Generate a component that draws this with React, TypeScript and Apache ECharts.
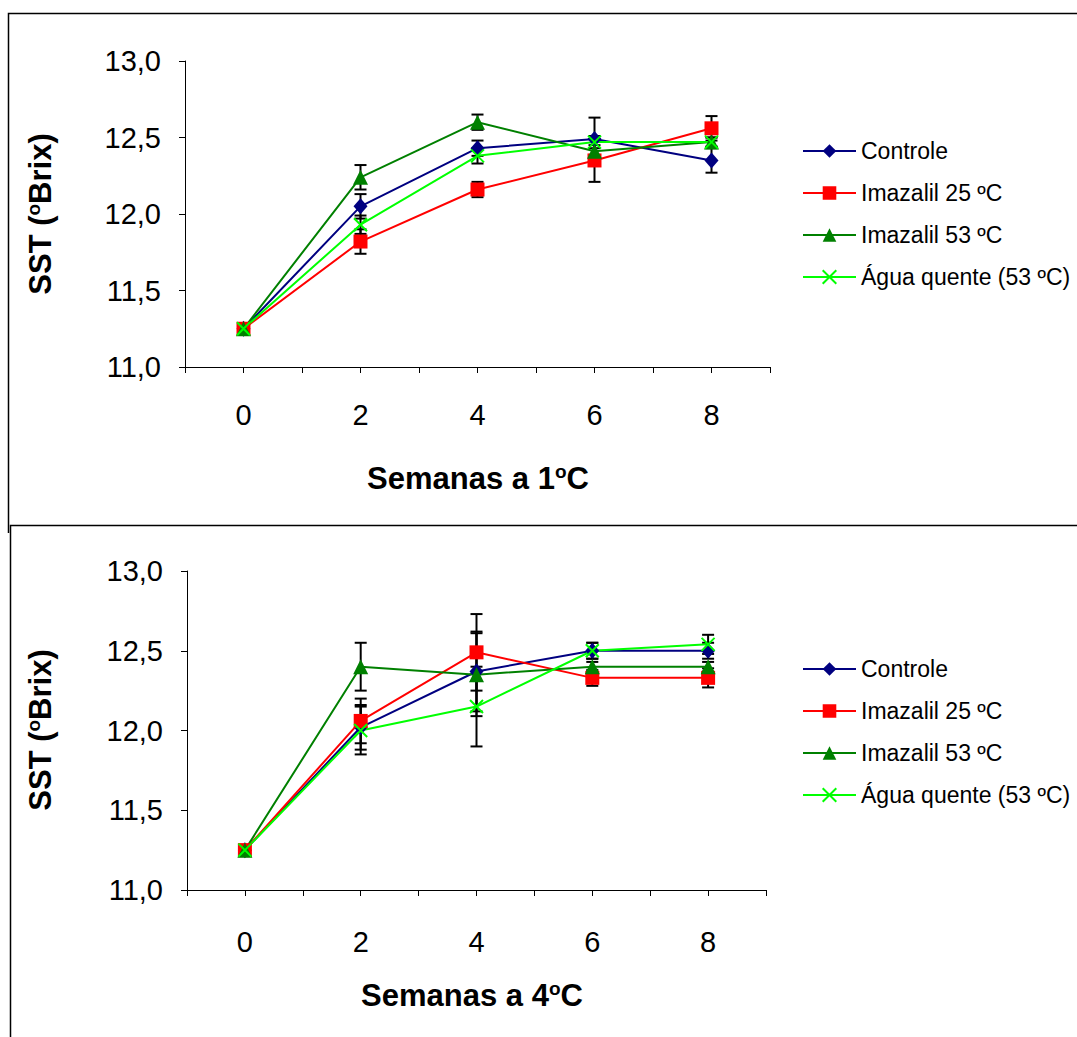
import React, { useEffect, useRef } from "react";
import * as echarts from "echarts";

const weeks = [0, 2, 4, 6, 8];
const seriesNames = ["Controle", "Imazalil 25 ºC", "Imazalil 53 ºC", "Água quente (53 ºC)"];
const yTicks = [11, 11.5, 12, 12.5, 13];
const xTickLabels = ["0", "2", "4", "6", "8"];

// Top chart (1 ºC)
const top1Controle = [11.25, 12.05, 12.43, 12.49, 12.35];
const top1Ima25 = [11.25, 11.82, 12.16, 12.35, 12.56];
const top1Ima53 = [11.25, 12.24, 12.6, 12.41, 12.47];
const top1Agua = [11.25, 11.93, 12.38, 12.47, 12.47];
const top1ErrControle = [0.01, 0.08, 0.05, 0.14, 0.08];
const top1ErrIma25 = [0.01, 0.08, 0.05, 0.14, 0.08];
const top1ErrIma53 = [0.01, 0.08, 0.05, 0.04, 0.03];
const top1ErrAgua = [0.01, 0.06, 0.05, 0.04, 0.03];

// Bottom chart (4 ºC)
const bot4Controle = [11.25, 12.02, 12.37, 12.5, 12.5];
const bot4Ima25 = [11.25, 12.06, 12.49, 12.33, 12.33];
const bot4Ima53 = [11.25, 12.4, 12.35, 12.4, 12.4];
const bot4Agua = [11.25, 12.0, 12.15, 12.5, 12.54];
const bot4ErrControle = [0.01, 0.14, 0.25, 0.05, 0.05];
const bot4ErrIma25 = [0.01, 0.14, 0.24, 0.05, 0.06];
const bot4ErrIma53 = [0.01, 0.15, 0.26, 0.03, 0.03];
const bot4ErrAgua = [0.01, 0.15, 0.25, 0.05, 0.06];

const FONT = "'Liberation Sans', Arial, sans-serif";
const colors = ["#000080", "#FF0000", "#008000", "#00FF00"];
const symbols = [
  "diamond",
  "rect",
  "triangle",
  "path://M0,0 L10,10 M10,0 L0,10",
];
const symbolSizes: any[] = [[14, 16], 14, 15, 13];

function App() {
  const ref = useRef<HTMLDivElement>(null);
  useEffect(() => {
    if (!ref.current) return;
    const chart = echarts.init(ref.current, null, { renderer: "svg" });

    const grids = [
      { left: 185, top: 61, width: 585, height: 306 },
      { left: 187, top: 571, width: 579, height: 319 },
    ];

    const xAxisBase = (gi: number) => ({
      type: "value",
      gridIndex: gi,
      min: -1,
      max: 9,
      interval: 1,
      axisLine: { show: true, onZero: false, lineStyle: { color: "#000", width: 1 } },
      axisTick: { show: true, inside: false, length: 6, lineStyle: { color: "#000" } },
      splitLine: { show: false },
      axisLabel: {
        fontFamily: FONT,
        fontSize: 29,
        color: "#000",
        margin: gi === 0 ? 33 : 37,
        formatter: (v: number) => {
          const i = weeks.indexOf(v);
          return i >= 0 ? xTickLabels[i] : "";
        },
      },
    });
    const yAxisBase = (gi: number) => ({
      type: "value",
      gridIndex: gi,
      min: yTicks[0],
      max: yTicks[yTicks.length - 1],
      interval: 0.5,
      axisLine: { show: true, onZero: false, lineStyle: { color: "#000", width: 1 } },
      axisTick: { show: true, inside: false, length: 6, lineStyle: { color: "#000" } },
      splitLine: { show: false },
      axisLabel: {
        fontFamily: FONT,
        fontSize: 29,
        color: "#000",
        margin: 24,
        formatter: (v: number) => v.toFixed(1).replace(".", ","),
      },
    });

    const charts = [
      {
        vals: [top1Controle, top1Ima25, top1Ima53, top1Agua],
        errs: [top1ErrControle, top1ErrIma25, top1ErrIma53, top1ErrAgua],
      },
      {
        vals: [bot4Controle, bot4Ima25, bot4Ima53, bot4Agua],
        errs: [bot4ErrControle, bot4ErrIma25, bot4ErrIma53, bot4ErrAgua],
      },
    ];

    const series: any[] = [];
    charts.forEach((c, gi) => {
      c.vals.forEach((vals, si) => {
        const errData = weeks.map((w, i) => [w, vals[i] - c.errs[si][i], vals[i] + c.errs[si][i]]);
        series.push({
          type: "custom",
          xAxisIndex: gi,
          yAxisIndex: gi,
          z: 1,
          silent: true,
          encode: { x: 0, y: [1, 2] },
          data: errData,
          renderItem: (params: any, api: any) => {
            const x = api.value(0);
            const lo = api.coord([x, api.value(1)]);
            const hi = api.coord([x, api.value(2)]);
            const hw = 6;
            const st = { stroke: "#000", lineWidth: 2 };
            return {
              type: "group",
              children: [
                { type: "line", shape: { x1: lo[0], y1: lo[1], x2: hi[0], y2: hi[1] }, style: st },
                { type: "line", shape: { x1: lo[0] - hw, y1: lo[1], x2: lo[0] + hw, y2: lo[1] }, style: st },
                { type: "line", shape: { x1: hi[0] - hw, y1: hi[1], x2: hi[0] + hw, y2: hi[1] }, style: st },
              ],
            };
          },
        });
      });
      c.vals.forEach((vals, si) => {
        series.push({
          type: "line",
          name: seriesNames[si],
          xAxisIndex: gi,
          yAxisIndex: gi,
          z: 3,
          data: weeks.map((w, i) => [w, vals[i]]),
          symbol: symbols[si],
          symbolSize: symbolSizes[si],
          showSymbol: true,
          lineStyle: { color: colors[si], width: 2 },
          itemStyle:
            si === 3
              ? { color: colors[si], borderColor: colors[si], borderWidth: 2 }
              : { color: colors[si], borderWidth: 0 },
        });
      });
    });

    const legendBase = (top: number) => ({
      orient: "vertical",
      left: 802,
      top,
      padding: 0,
      itemWidth: 53,
      itemHeight: 17,
      itemGap: 16,
      textStyle: { fontFamily: FONT, fontSize: 23, color: "#000", padding: [0, 0, 0, 0], lineHeight: 26 },
      data: seriesNames,
      selectedMode: false,
    });

    const titleRich = {
      a: { fontFamily: FONT, fontSize: 31, fontWeight: "bold", fill: "#000", color: "#000" },
      s: {
        fontFamily: FONT,
        fontSize: 19,
        fontWeight: "bold",
        fill: "#000",
        color: "#000",
        verticalAlign: "top",
        padding: [0, 0, 14, 0],
      },
    };

    const option: any = {
      animation: false,
      backgroundColor: "#fff",
      grid: grids,
      xAxis: [xAxisBase(0), xAxisBase(1)],
      yAxis: [yAxisBase(0), yAxisBase(1)],
      legend: [legendBase(138), legendBase(656)],
      series,
      graphic: [
        {
          type: "polyline",
          shape: { points: [[1080, 13.5], [8.5, 13.5], [8.5, 533]] },
          style: { stroke: "#000", lineWidth: 1.5, fill: null },
        },
        {
          type: "polyline",
          shape: { points: [[1080, 525.5], [10.5, 525.5], [10.5, 1040]] },
          style: { stroke: "#000", lineWidth: 1.5, fill: null },
        },
        {
          type: "text",
          x: 40,
          y: 214,
          rotation: Math.PI / 2,
          style: {
            text: "{a|SST (}{s|o}{a|Brix)}",
            rich: titleRich,
            align: "center",
            verticalAlign: "middle",
          },
        },
        {
          type: "text",
          x: 40,
          y: 730,
          rotation: Math.PI / 2,
          style: {
            text: "{a|SST (}{s|o}{a|Brix)}",
            rich: titleRich,
            align: "center",
            verticalAlign: "middle",
          },
        },
        {
          type: "text",
          x: 478,
          y: 478,
          style: {
            text: "{a|Semanas a 1}{s|o}{a|C}",
            rich: titleRich,
            align: "center",
            verticalAlign: "middle",
          },
        },
        {
          type: "text",
          x: 472,
          y: 995,
          style: {
            text: "{a|Semanas a 4}{s|o}{a|C}",
            rich: titleRich,
            align: "center",
            verticalAlign: "middle",
          },
        },
      ],
    };
    chart.setOption(option);
    return () => chart.dispose();
  }, []);
  return (
    <div
      ref={ref}
      style={{ position: "absolute", left: 0, top: 0, width: 1077, height: 1037 }}
    />
  );
}

export default App;
